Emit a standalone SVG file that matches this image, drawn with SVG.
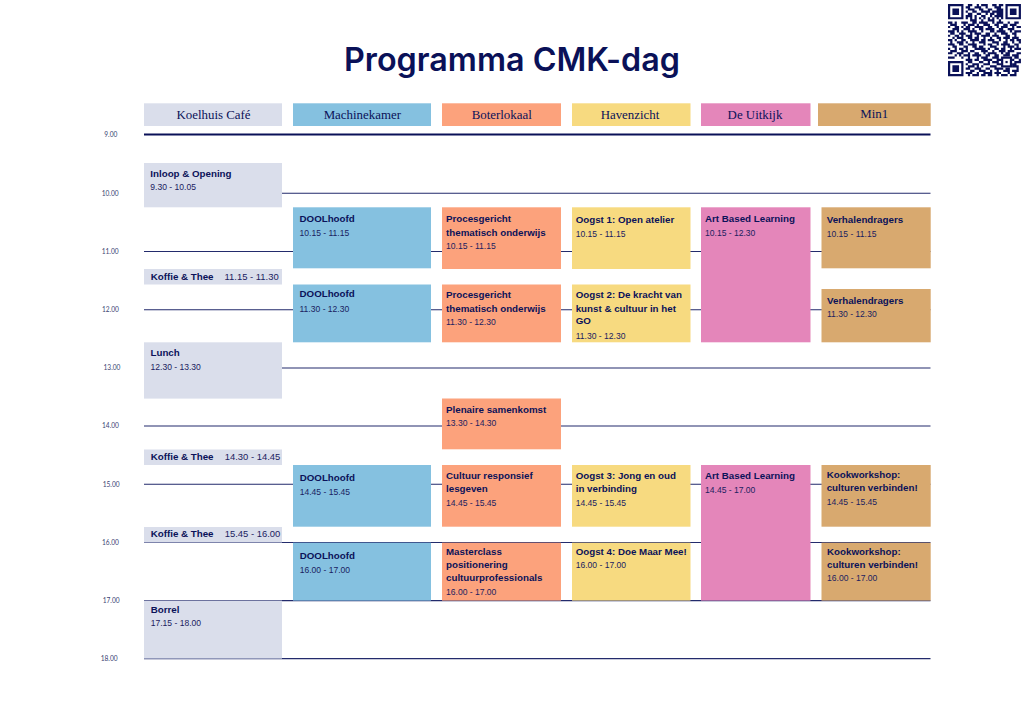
<svg xmlns="http://www.w3.org/2000/svg" width="1024" height="724" viewBox="0 0 1024 724">
<style>
text{fill:#0b1259;font-family:"Liberation Sans",Arial,sans-serif}
.h{font-family:"Liberation Serif","Times New Roman",serif;font-size:12.9px;text-anchor:middle}
.b{font-weight:700;font-size:9.75px}
.t{font-size:8.55px;fill:#1a2160}
.k{font-size:9.45px;fill:#1a2160}
.tick{font-family:Lato,sans-serif;font-size:6.6px;fill:#3a3f72}
.line{stroke:#232b6c;stroke-width:1.1;fill:none}
.c0{fill:#dadeeb}.c1{fill:#85c1e0}.c2{fill:#fca27c}.c3{fill:#f7da80}.c4{fill:#e486ba}.c5{fill:#d8a96f}
</style>
<rect width="1024" height="724" fill="#fff"/>
<text id="title" x="512" y="70.5" text-anchor="middle" textLength="336" lengthAdjust="spacingAndGlyphs" style="font-family:Inter,'Liberation Sans',sans-serif;font-weight:600;font-size:32px;fill:#0a1158">Programma CMK-dag</text>
<g id="qr" transform="translate(948 4) scale(2.21 2.19)" fill="none" stroke="#0a1158" stroke-width="1">
<path d="M.5 .5h6v6h-6zM26.5 .5h6v6h-6zM.5 26.5h6v6h-6z" stroke-width="1"/>
<path fill="#0a1158" stroke="none" d="M2 2h3v3h-3zM28 2h3v3h-3zM2 28h3v3h-3zM24 24h5v5h-5z"/>
<path fill="#fff" stroke="none" d="M25 25h3v3h-3z"/>
<path fill="#0a1158" stroke="none" d="M26 26h1v1h-1z"/>
<path d="M9 .5h2M13 .5h1M15 .5h3M20 .5h2M23 .5h2
M8 1.5h2M12 1.5h3M17 1.5h1M21 1.5h3
M9 2.5h3M14 2.5h2M18 2.5h2M22 2.5h3
M8 3.5h1M11 3.5h2M15 3.5h4M20 3.5h5
M9 4.5h2M13 4.5h2M17 4.5h1M19 4.5h2M22 4.5h3
M8 5.5h3M12 5.5h1M15 5.5h2M19 5.5h1M21 5.5h4
M8 6.5h1M10 6.5h1M12 6.5h1M14 6.5h1M16 6.5h1M18 6.5h1M20 6.5h1M22 6.5h1M24 6.5h1
M10 7.5h3M15 7.5h1M18 7.5h3M23 7.5h1
M0 8.5h2M3 8.5h1M6 8.5h3M11 8.5h2M14 8.5h4M20 8.5h1M22 8.5h3M27 8.5h1M30 8.5h2
M1 9.5h3M7 9.5h1M9 9.5h3M13 9.5h1M16 9.5h3M21 9.5h2M25 9.5h2M28 9.5h3
M0 10.5h1M3 10.5h2M6 10.5h1M8 10.5h2M12 10.5h4M18 10.5h2M22 10.5h1M24 10.5h3M29 10.5h1M31 10.5h2
M2 11.5h3M7 11.5h3M11 11.5h1M14 11.5h2M17 11.5h4M23 11.5h2M27 11.5h3
M0 12.5h3M4 12.5h1M6 12.5h1M9 12.5h4M15 12.5h1M19 12.5h2M22 12.5h4M28 12.5h1M30 12.5h3
M1 13.5h2M5 13.5h3M10 13.5h1M12 13.5h3M17 13.5h2M21 13.5h1M24 13.5h3M29 13.5h2
M0 14.5h1M3 14.5h2M6 14.5h1M8 14.5h3M13 14.5h1M15 14.5h4M20 14.5h3M26 14.5h2M30 14.5h1
M2 15.5h1M4 15.5h3M9 15.5h2M12 15.5h2M16 15.5h1M19 15.5h1M22 15.5h2M25 15.5h3M29 15.5h3
M0 16.5h2M3 16.5h1M6 16.5h2M10 16.5h4M15 16.5h2M18 16.5h3M23 16.5h1M26 16.5h1M28 16.5h2M31 16.5h2
M1 17.5h1M4 17.5h3M8 17.5h1M11 17.5h1M14 17.5h3M20 17.5h3M25 17.5h2M29 17.5h1M32 17.5h1
M0 18.5h3M5 18.5h2M9 18.5h4M16 18.5h1M18 18.5h2M22 18.5h1M24 18.5h4M30 18.5h2
M2 19.5h2M7 19.5h2M11 19.5h2M14 19.5h2M19 19.5h3M25 19.5h1M27 19.5h3M31 19.5h1
M0 20.5h1M3 20.5h1M5 20.5h2M8 20.5h1M12 20.5h5M18 20.5h1M21 20.5h2M24 20.5h2M28 20.5h1M30 20.5h3
M1 21.5h3M6 21.5h3M10 21.5h2M15 21.5h3M20 21.5h1M23 21.5h3M27 21.5h3
M0 22.5h2M4 22.5h3M9 22.5h1M12 22.5h2M16 22.5h1M18 22.5h4M24 22.5h1M26 22.5h2M31 22.5h2
M3 23.5h1M5 23.5h1M7 23.5h3M11 23.5h4M17 23.5h2M21 23.5h2M25 23.5h3M29 23.5h3
M0 24.5h3M6 24.5h1M9 24.5h1M13 24.5h1M15 24.5h3M20 24.5h3M30 24.5h2
M8 25.5h3M12 25.5h2M16 25.5h4M22 25.5h2M29 25.5h1M32 25.5h1
M9 26.5h2M14 26.5h2M18 26.5h1M20 26.5h3M30 26.5h3
M8 27.5h1M11 27.5h3M16 27.5h3M22 27.5h2M29 27.5h2
M9 28.5h3M13 28.5h1M15 28.5h1M19 28.5h3M29 28.5h3
M8 29.5h2M12 29.5h3M17 29.5h2M21 29.5h4M26 29.5h2M31 29.5h1
M10 30.5h2M14 30.5h3M19 30.5h1M22 30.5h1M25 30.5h3M29 30.5h3
M8 31.5h3M13 31.5h1M16 31.5h4M21 31.5h3M27 31.5h1M30 31.5h1
M9 32.5h1M11 32.5h3M15 32.5h2M18 32.5h2M22 32.5h1M24 32.5h3M28 32.5h3"/>
</g>
<g id="connectors">
<path class="line" style="stroke-width:2;stroke:#0a1158" d="M144 134.5H930.5"/>
<path class="line" d="M144 193.3H930.5M144 251.5H930.5M144 309.7H930.5M144 368H930.5M144 426H930.5M144 484.2H930.5M144 542.5H930.5M144 600.6H930.5M144 658.6H930.5"/>
</g>
<g id="ticks">
<text class="tick" x="104.3" y="136.8">9.00</text>
<text class="tick" x="101.7" y="195.6">10.00</text>
<text class="tick" x="101.7" y="253.8">11.00</text>
<text class="tick" x="102" y="312">12.00</text>
<text class="tick" x="103.5" y="370.3">13.00</text>
<text class="tick" x="102" y="428.3">14.00</text>
<text class="tick" x="102.7" y="486.5">15.00</text>
<text class="tick" x="102" y="544.8">16.00</text>
<text class="tick" x="102.7" y="602.9">17.00</text>
<text class="tick" x="100.7" y="660.9">18.00</text>
</g>
<g id="head-koelhuis"><rect class="c0" x="144" y="103.3" width="138" height="22.7"/><text class="h" x="213.5" y="119">Koelhuis Café</text></g>
<g id="head-machinekamer"><rect class="c1" x="293" y="103.3" width="138" height="22.7"/><text class="h" x="362.3" y="119">Machinekamer</text></g>
<g id="head-boterlokaal"><rect class="c2" x="442" y="103.3" width="119" height="22.7"/><text class="h" x="501.7" y="119">Boterlokaal</text></g>
<g id="head-havenzicht"><rect class="c3" x="572" y="103.3" width="118.5" height="22.7"/><text class="h" x="630" y="119">Havenzicht</text></g>
<g id="head-uitkijk"><rect class="c4" x="701" y="103.3" width="109.5" height="22.7"/><text class="h" x="755" y="119">De Uitkijk</text></g>
<g id="head-min1"><rect class="c5" x="818" y="103.3" width="112.7" height="22.7"/><text class="h" x="874.3" y="117.7">Min1</text></g>

<g id="inloop"><rect class="c0" x="144" y="163" width="138" height="44.3"/><text class="b" x="150.3" y="176.7">Inloop &amp; Opening</text><text class="t" x="150.3" y="189.7">9.30 - 10.05</text></g>
<g id="koffie1"><rect class="c0" x="144" y="269" width="138" height="15.5"/><text class="b" x="150.7" y="280">Koffie &amp; Thee</text><text class="k" x="224.5" y="280">11.15 - 11.30</text></g>
<g id="lunch"><rect class="c0" x="144" y="342.3" width="138" height="56.3"/><text class="b" x="150.5" y="356.3">Lunch</text><text class="t" x="150.5" y="370">12.30 - 13.30</text></g>
<g id="koffie2"><rect class="c0" x="144" y="449.5" width="138" height="15.5"/><text class="b" x="150.7" y="460">Koffie &amp; Thee</text><text class="k" x="224.7" y="460">14.30 - 14.45</text></g>
<g id="koffie3"><rect class="c0" x="144" y="527" width="138" height="15.5"/><text class="b" x="150.7" y="537.3">Koffie &amp; Thee</text><text class="k" x="224.7" y="537.3">15.45 - 16.00</text></g>
<g id="borrel"><rect class="c0" x="144" y="600.6" width="138" height="58"/><text class="b" x="150.7" y="613.3">Borrel</text><text class="t" x="150.7" y="625.7">17.15 - 18.00</text></g>

<g id="dool1"><rect class="c1" x="293" y="207.3" width="138" height="61"/><text class="b" x="299.5" y="222.3">DOOLhoofd</text><text class="t" x="299.5" y="236.3">10.15 - 11.15</text></g>
<g id="dool2"><rect class="c1" x="293" y="284.5" width="138" height="57.8"/><text class="b" x="299.5" y="297.3">DOOLhoofd</text><text class="t" x="299.5" y="311.7">11.30 - 12.30</text></g>
<g id="dool3"><rect class="c1" x="293" y="465" width="138" height="61.7"/><text class="b" x="299.7" y="480.7">DOOLhoofd</text><text class="t" x="299.7" y="495">14.45 - 15.45</text></g>
<g id="dool4"><rect class="c1" x="293" y="542.7" width="138" height="57.9"/><text class="b" x="299.7" y="558.7">DOOLhoofd</text><text class="t" x="299.7" y="572.7">16.00 - 17.00</text></g>

<g id="proces1"><rect class="c2" x="442" y="207.3" width="119" height="61.7"/><text class="b" x="446" y="222.3">Procesgericht</text><text class="b" x="446" y="235.7">thematisch onderwijs</text><text class="t" x="446" y="249">10.15 - 11.15</text></g>
<g id="proces2"><rect class="c2" x="442" y="284.5" width="119" height="57.8"/><text class="b" x="446" y="298.3">Procesgericht</text><text class="b" x="446" y="311.7">thematisch onderwijs</text><text class="t" x="446" y="325.3">11.30 - 12.30</text></g>
<g id="plenaire"><rect class="c2" x="442" y="398.5" width="119" height="50.8"/><text class="b" x="446" y="412.7">Plenaire samenkomst</text><text class="t" x="446" y="426">13.30 - 14.30</text></g>
<g id="cultuur"><rect class="c2" x="442" y="465" width="119" height="61.7"/><text class="b" x="446" y="479">Cultuur responsief</text><text class="b" x="446" y="492">lesgeven</text><text class="t" x="446" y="506">14.45 - 15.45</text></g>
<g id="masterclass"><rect class="c2" x="442" y="542.7" width="119" height="57.9"/><text class="b" x="446" y="555">Masterclass</text><text class="b" x="446" y="568.3">positionering</text><text class="b" x="446" y="581.3">cultuurprofessionals</text><text class="t" x="446" y="595">16.00 - 17.00</text></g>

<g id="oogst1"><rect class="c3" x="572" y="207.3" width="118.5" height="61.7"/><text class="b" x="575.7" y="223.3">Oogst 1: Open atelier</text><text class="t" x="575.7" y="236.7">10.15 - 11.15</text></g>
<g id="oogst2"><rect class="c3" x="572" y="284.5" width="118.5" height="57.8"/><text class="b" x="575.7" y="298.3">Oogst 2: De kracht van</text><text class="b" x="575.7" y="311.7">kunst &amp; cultuur in het</text><text class="b" x="575.7" y="324.3">GO</text><text class="t" x="575.7" y="338.7">11.30 - 12.30</text></g>
<g id="oogst3"><rect class="c3" x="572" y="465" width="118.5" height="61.7"/><text class="b" x="575.7" y="479">Oogst 3: Jong en oud</text><text class="b" x="575.7" y="492">in verbinding</text><text class="t" x="575.7" y="506">14.45 - 15.45</text></g>
<g id="oogst4"><rect class="c3" x="572" y="542.7" width="118.5" height="57.9"/><text class="b" x="575.7" y="555">Oogst 4: Doe Maar Mee!</text><text class="t" x="575.7" y="568.3">16.00 - 17.00</text></g>

<g id="abl1"><rect class="c4" x="701" y="207.3" width="109.5" height="135"/><text class="b" x="705" y="222.3">Art Based Learning</text><text class="t" x="705" y="235.7">10.15 - 12.30</text></g>
<g id="abl2"><rect class="c4" x="701" y="465" width="109.5" height="135.6"/><text class="b" x="705" y="479">Art Based Learning</text><text class="t" x="705" y="492.7">14.45 - 17.00</text></g>

<g id="verhalen1"><rect class="c5" x="821.5" y="207.3" width="109.2" height="61"/><text class="b" x="826.7" y="223.3">Verhalendragers</text><text class="t" x="826.7" y="236.7">10.15 - 11.15</text></g>
<g id="verhalen2"><rect class="c5" x="821.5" y="289" width="109.2" height="53.3"/><text class="b" x="827" y="303.7">Verhalendragers</text><text class="t" x="827" y="317">11.30 - 12.30</text></g>
<g id="kook1"><rect class="c5" x="821.5" y="465" width="109.2" height="61.7"/><text class="b" x="826.7" y="478">Kookworkshop:</text><text class="b" x="826.7" y="491">culturen verbinden!</text><text class="t" x="826.7" y="504.7">14.45 - 15.45</text></g>
<g id="kook2"><rect class="c5" x="821.5" y="542.7" width="109.2" height="57.9"/><text class="b" x="827" y="555">Kookworkshop:</text><text class="b" x="827" y="567.7">culturen verbinden!</text><text class="t" x="827" y="581.3">16.00 - 17.00</text></g>
</svg>
